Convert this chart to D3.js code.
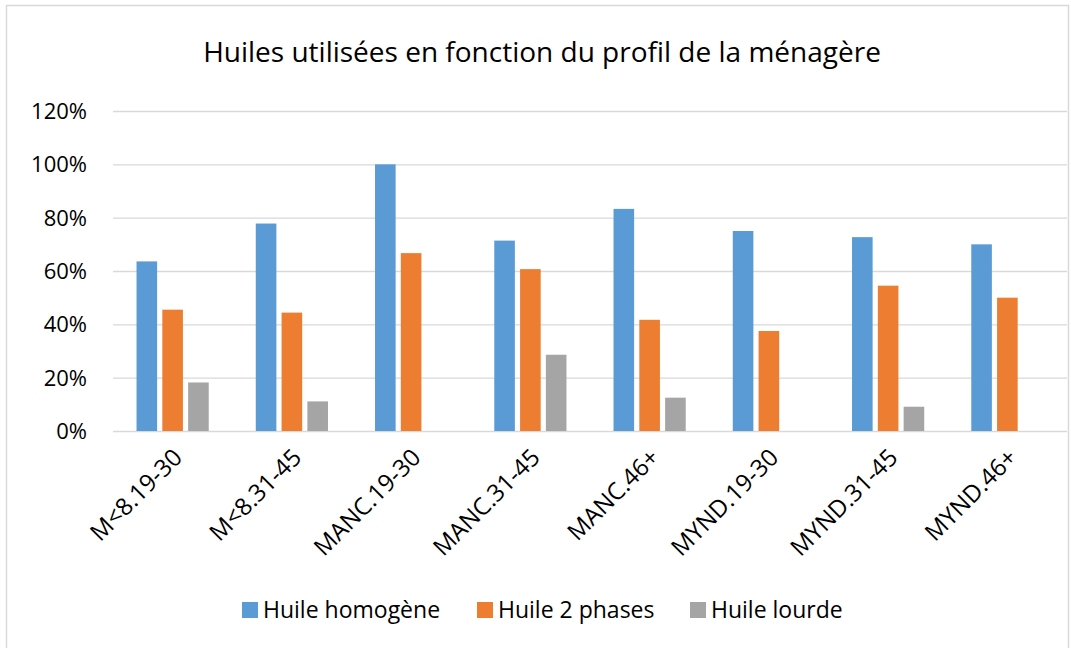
<!DOCTYPE html>
<html>
<head>
<meta charset="utf-8">
<script src="https://cdn.jsdelivr.net/npm/d3@7"></script>
<style>
  body { margin: 0; background: #fff; }
  svg { display: block; font-family: "Open Sans", "Noto Sans", sans-serif; }
</style>
</head>
<body>
<div id="chart"></div>
<script>
const categories = ["M<8.19-30", "M<8.31-45", "MANC.19-30", "MANC.31-45", "MANC.46+", "MYND.19-30", "MYND.31-45", "MYND.46+"];
const huileHomogene = [63.6, 77.8, 100, 71.4, 83.3, 75, 72.7, 70];
const huile2Phases = [45.5, 44.4, 66.7, 60.7, 41.7, 37.5, 54.5, 50];
const huileLourde = [18.2, 11.1, 0, 28.6, 12.5, 0, 9.1, 0];
const seriesNames = ["Huile homogène", "Huile 2 phases", "Huile lourde"];
const seriesColors = ["#5B9BD5", "#ED7D31", "#A5A5A5"];
const yTicks = [0, 20, 40, 60, 80, 100, 120];

const width = 1071, height = 648;
const svg = d3.select("#chart").append("svg")
    .attr("width", width).attr("height", height);

// chart frame
svg.append("rect")
    .attr("x", 6.5).attr("y", 5.5)
    .attr("width", 1062).attr("height", 700)
    .attr("fill", "none").attr("stroke", "#d9d9d9").attr("stroke-width", 1.5);

svg.append("text")
    .attr("x", 542).attr("y", 62)
    .attr("text-anchor", "middle")
    .attr("font-size", 28).attr("fill", "#000")
    .text("Huiles utilisées en fonction du profil de la ménagère");

const x = d3.scaleBand().domain(categories).range([113, 1067]);
const y = d3.scaleLinear().domain([0, 120]).range([431, 111]);

// gridlines
svg.append("g").selectAll("line").data(yTicks).join("line")
    .attr("x1", 113).attr("x2", 1067)
    .attr("y1", d => y(d) + 0.5).attr("y2", d => y(d) + 0.5)
    .attr("stroke", "#d9d9d9").attr("stroke-width", 1.3);

svg.append("g").selectAll("text").data(yTicks).join("text")
    .attr("x", 87).attr("y", d => y(d))
    .attr("dy", "0.36em")
    .attr("text-anchor", "end")
    .attr("font-size", 22).attr("fill", "#000")
    .text(d => d + "%");

const series = [huileHomogene, huile2Phases, huileLourde];
const barW = 20.6, gap = 5.2;
const groupW = 3 * barW + 2 * gap;

series.forEach((vals, s) => {
    svg.append("g").selectAll("rect").data(vals).join("rect")
        .attr("x", (d, i) => x(categories[i]) + x.bandwidth() / 2 - groupW / 2 + s * (barW + gap))
        .attr("y", d => y(d))
        .attr("width", barW)
        .attr("height", d => y(0) - y(d))
        .attr("fill", seriesColors[s]);
});

// category labels
svg.append("g").selectAll("text").data(categories).join("text")
    .attr("transform", d => `translate(${x(d) + x.bandwidth() / 2 + 11},${459}) rotate(-45)`)
    .attr("text-anchor", "end")
    .attr("font-size", 24).attr("fill", "#000")
    .text(d => d);

// legend
const legendX = [242, 477, 690];
const lg = svg.append("g").selectAll("g").data(seriesNames).join("g")
    .attr("transform", (d, i) => `translate(${legendX[i]},610)`);
lg.append("rect").attr("x", 0).attr("y", -8).attr("width", 16).attr("height", 16)
    .attr("fill", (d, i) => seriesColors[i]);
lg.append("text").attr("x", 21).attr("dy", "0.36em")
    .attr("font-size", 23).attr("fill", "#000")
    .text(d => d);
</script>
</body>
</html>
